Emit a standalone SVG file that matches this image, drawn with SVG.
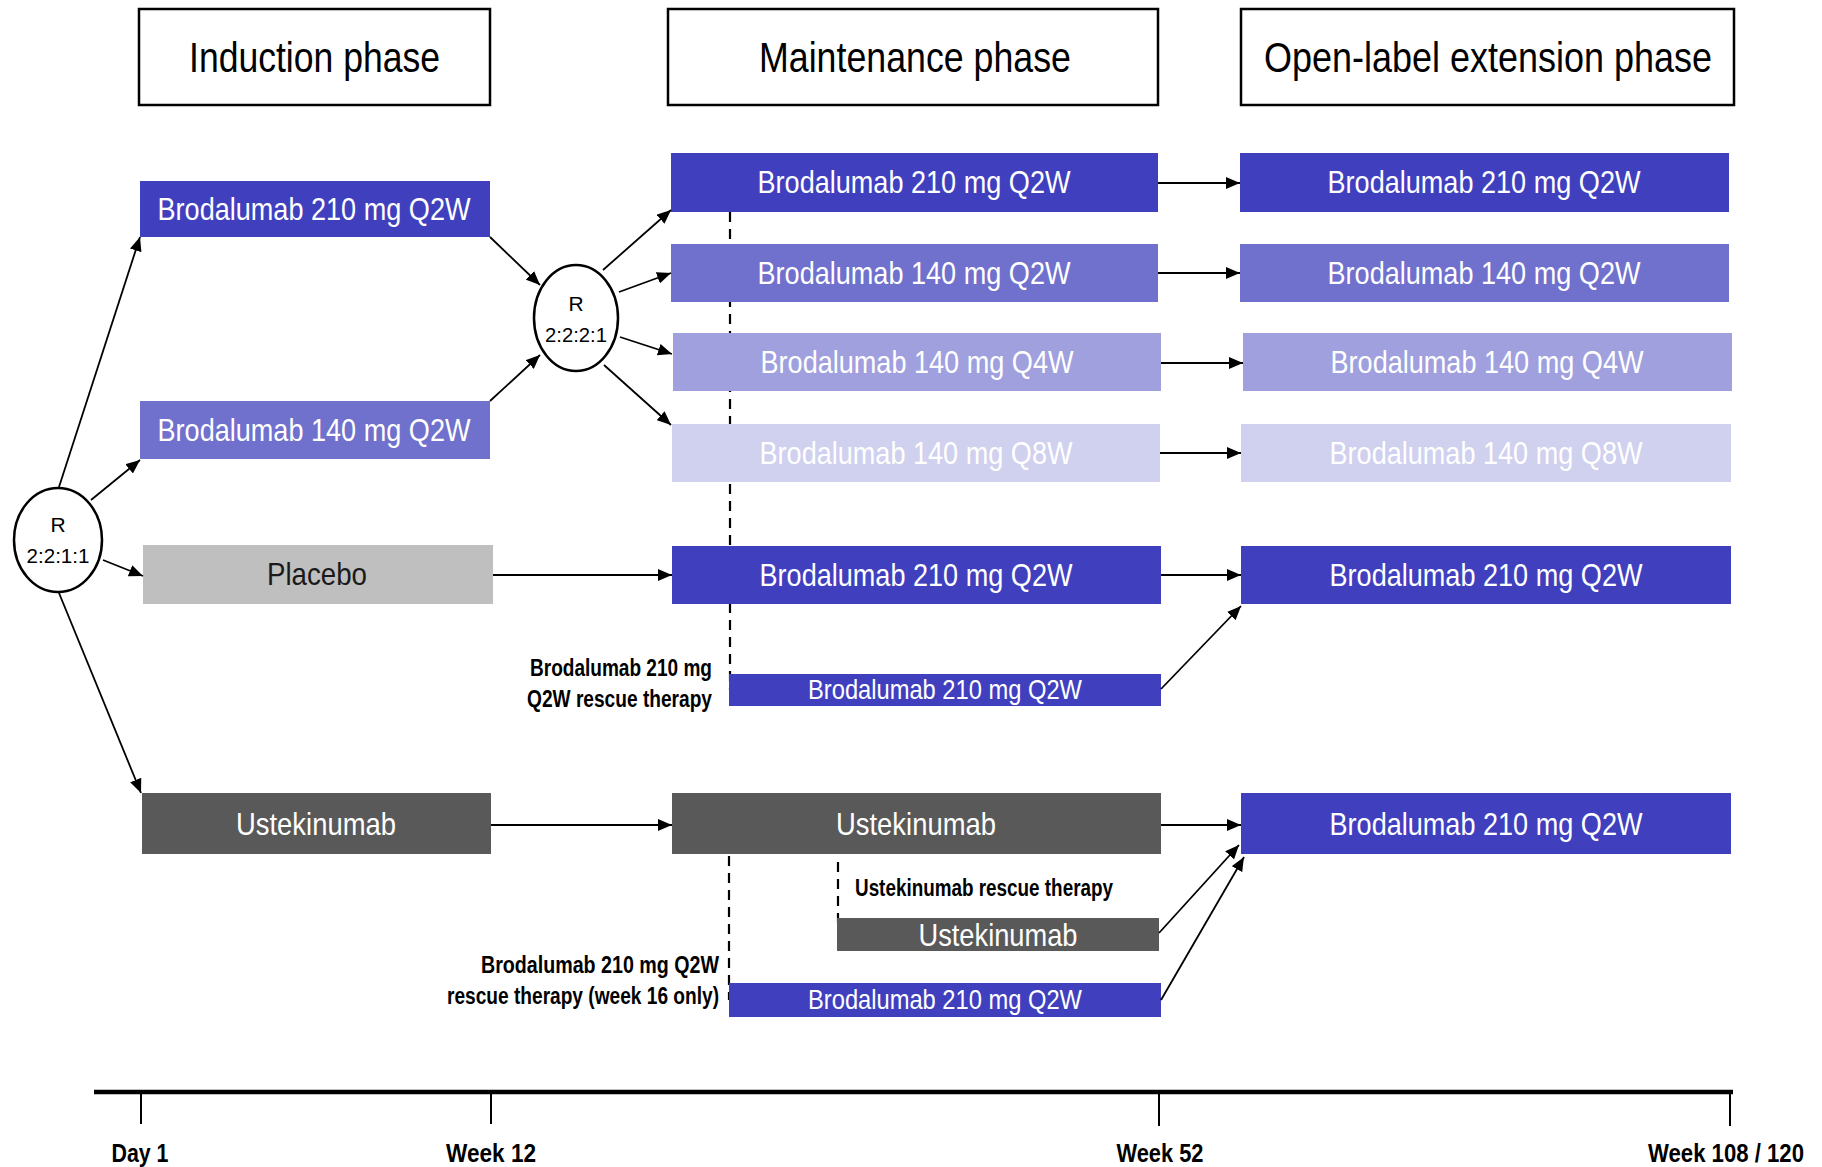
<svg xmlns="http://www.w3.org/2000/svg" width="1822" height="1167" viewBox="0 0 1822 1167">
<defs>
<marker id="ah" viewBox="0 0 14 12" refX="14" refY="6" markerWidth="14" markerHeight="12" markerUnits="userSpaceOnUse" orient="auto"><path d="M0,0 L14,6 L0,12 z" fill="#000"/></marker>
<style>
.hdr{fill:#fff;stroke:#000;stroke-width:2.5}
.ht{font-family:"Liberation Sans",Arial,sans-serif;font-size:42px;fill:#000;text-anchor:middle}
.bt{font-family:"Liberation Sans",Arial,sans-serif;font-size:32px;fill:#fff;text-anchor:middle}
.st{font-family:"Liberation Sans",Arial,sans-serif;font-size:28px;fill:#fff;text-anchor:middle}
.lb{font-family:"Liberation Sans",Arial,sans-serif;font-size:23px;font-weight:bold;fill:#000}
.tl{font-family:"Liberation Sans",Arial,sans-serif;font-size:25px;font-weight:bold;fill:#000;text-anchor:middle}
.ct{font-family:"Liberation Sans",Arial,sans-serif;font-size:21px;fill:#000;text-anchor:middle}
.c210{fill:#4040bf}
.c140{fill:#7070cd}
.c4w{fill:#a0a0de}
.c8w{fill:#d0d0ef}
.cpl{fill:#bfbfbf}
.cus{fill:#595959}
.circ{fill:#fff;stroke:#000;stroke-width:2.5}
.ar{stroke:#000;stroke-width:1.8;fill:none;marker-end:url(#ah)}
.dash{stroke:#000;stroke-width:2.2;fill:none;stroke-dasharray:10 7}
.axis{stroke:#000;fill:none}
</style>
</defs>

<g id="dashed-lines">
<line class="dash" x1="730" y1="212" x2="730" y2="690"/>
<line class="dash" x1="729" y1="856" x2="729" y2="1000"/>
<line class="dash" x1="838" y1="862" x2="838" y2="930"/>
</g>

<g id="header-induction"><rect class="hdr" x="139" y="9" width="351" height="96"/><text class="ht" x="314.5" y="72" textLength="251" lengthAdjust="spacingAndGlyphs">Induction phase</text></g>
<g id="header-maintenance"><rect class="hdr" x="668" y="9" width="490" height="96"/><text class="ht" x="915" y="72" textLength="312" lengthAdjust="spacingAndGlyphs">Maintenance phase</text></g>
<g id="header-ole"><rect class="hdr" x="1241" y="9" width="493" height="96"/><text class="ht" x="1488" y="72" textLength="448" lengthAdjust="spacingAndGlyphs">Open-label extension phase</text></g>

<g id="rand1"><ellipse class="circ" cx="58" cy="540" rx="44" ry="52"/><text class="ct" x="58" y="532">R</text><text class="ct" x="58" y="563" textLength="63" lengthAdjust="spacingAndGlyphs">2:2:1:1</text></g>
<g id="rand2"><ellipse class="circ" cx="576" cy="318" rx="42" ry="53"/><text class="ct" x="576" y="311">R</text><text class="ct" x="576" y="342" textLength="62" lengthAdjust="spacingAndGlyphs">2:2:2:1</text></g>

<g id="ind-210"><rect class="c210" x="140" y="181" width="350" height="56"/><text class="bt" x="314" y="220" textLength="313" lengthAdjust="spacingAndGlyphs">Brodalumab 210 mg Q2W</text></g>
<g id="ind-140"><rect class="c140" x="140" y="401" width="350" height="58"/><text class="bt" x="314" y="441" textLength="313" lengthAdjust="spacingAndGlyphs">Brodalumab 140 mg Q2W</text></g>
<g id="ind-placebo"><rect class="cpl" x="143" y="545" width="350" height="59"/><text class="bt" x="317" y="585" style="fill:#1a1a1a" textLength="100" lengthAdjust="spacingAndGlyphs">Placebo</text></g>
<g id="ind-ust"><rect class="cus" x="142" y="793" width="349" height="61"/><text class="bt" x="316" y="835" textLength="160" lengthAdjust="spacingAndGlyphs">Ustekinumab</text></g>

<g id="m-210"><rect class="c210" x="671" y="153" width="487" height="59"/><text class="bt" x="914" y="193" textLength="313" lengthAdjust="spacingAndGlyphs">Brodalumab 210 mg Q2W</text></g>
<g id="m-140q2"><rect class="c140" x="671" y="244" width="487" height="58"/><text class="bt" x="914" y="284" textLength="313" lengthAdjust="spacingAndGlyphs">Brodalumab 140 mg Q2W</text></g>
<g id="m-140q4"><rect class="c4w" x="673" y="333" width="488" height="58"/><text class="bt" x="917" y="373" textLength="313" lengthAdjust="spacingAndGlyphs">Brodalumab 140 mg Q4W</text></g>
<g id="m-140q8"><rect class="c8w" x="672" y="424" width="488" height="58"/><text class="bt" x="916" y="464" textLength="313" lengthAdjust="spacingAndGlyphs">Brodalumab 140 mg Q8W</text></g>
<g id="m-pl-210"><rect class="c210" x="672" y="546" width="489" height="58"/><text class="bt" x="916" y="586" textLength="313" lengthAdjust="spacingAndGlyphs">Brodalumab 210 mg Q2W</text></g>
<g id="m-rescue1"><rect class="c210" x="729" y="674" width="432" height="32"/><text class="st" x="945" y="699" textLength="274" lengthAdjust="spacingAndGlyphs">Brodalumab 210 mg Q2W</text></g>
<g id="m-ust"><rect class="cus" x="672" y="793" width="489" height="61"/><text class="bt" x="916" y="835" textLength="160" lengthAdjust="spacingAndGlyphs">Ustekinumab</text></g>
<g id="m-ust-rescue"><rect class="cus" x="837" y="918" width="322" height="33"/><text class="bt" x="998" y="946" textLength="159" lengthAdjust="spacingAndGlyphs">Ustekinumab</text></g>
<g id="m-rescue2"><rect class="c210" x="729" y="983" width="432" height="34"/><text class="st" x="945" y="1009" textLength="274" lengthAdjust="spacingAndGlyphs">Brodalumab 210 mg Q2W</text></g>

<g id="o-210"><rect class="c210" x="1240" y="153" width="489" height="59"/><text class="bt" x="1484" y="193" textLength="313" lengthAdjust="spacingAndGlyphs">Brodalumab 210 mg Q2W</text></g>
<g id="o-140q2"><rect class="c140" x="1240" y="244" width="489" height="58"/><text class="bt" x="1484" y="284" textLength="313" lengthAdjust="spacingAndGlyphs">Brodalumab 140 mg Q2W</text></g>
<g id="o-140q4"><rect class="c4w" x="1243" y="333" width="489" height="58"/><text class="bt" x="1487" y="373" textLength="313" lengthAdjust="spacingAndGlyphs">Brodalumab 140 mg Q4W</text></g>
<g id="o-140q8"><rect class="c8w" x="1241" y="424" width="490" height="58"/><text class="bt" x="1486" y="464" textLength="313" lengthAdjust="spacingAndGlyphs">Brodalumab 140 mg Q8W</text></g>
<g id="o-pl-210"><rect class="c210" x="1241" y="546" width="490" height="58"/><text class="bt" x="1486" y="586" textLength="313" lengthAdjust="spacingAndGlyphs">Brodalumab 210 mg Q2W</text></g>
<g id="o-ust-210"><rect class="c210" x="1241" y="793" width="490" height="61"/><text class="bt" x="1486" y="835" textLength="313" lengthAdjust="spacingAndGlyphs">Brodalumab 210 mg Q2W</text></g>

<g id="labels">
<text class="lb" x="712" y="676" text-anchor="end" textLength="182" lengthAdjust="spacingAndGlyphs">Brodalumab 210 mg</text>
<text class="lb" x="712" y="707" text-anchor="end" textLength="185" lengthAdjust="spacingAndGlyphs">Q2W rescue therapy</text>
<text class="lb" x="855" y="896" textLength="258" lengthAdjust="spacingAndGlyphs">Ustekinumab rescue therapy</text>
<text class="lb" x="719" y="973" text-anchor="end" textLength="238" lengthAdjust="spacingAndGlyphs">Brodalumab 210 mg Q2W</text>
<text class="lb" x="719" y="1004" text-anchor="end" textLength="272" lengthAdjust="spacingAndGlyphs">rescue therapy (week 16 only)</text>
</g>

<g id="connectors">
<line class="ar" x1="59" y1="487" x2="140" y2="237"/>
<line class="ar" x1="91" y1="500" x2="140" y2="460"/>
<line class="ar" x1="103" y1="560" x2="143" y2="576"/>
<line class="ar" x1="59" y1="593" x2="141" y2="793"/>
<line class="ar" x1="490" y1="237" x2="540" y2="285"/>
<line class="ar" x1="490" y1="401" x2="540" y2="355"/>
<line class="ar" x1="603" y1="270" x2="671" y2="210"/>
<line class="ar" x1="619" y1="292" x2="671" y2="273"/>
<line class="ar" x1="620" y1="337" x2="672" y2="354"/>
<line class="ar" x1="604" y1="365" x2="671" y2="425"/>
<line class="ar" x1="1158" y1="183" x2="1240" y2="183"/>
<line class="ar" x1="1158" y1="273" x2="1240" y2="273"/>
<line class="ar" x1="1161" y1="363" x2="1243" y2="363"/>
<line class="ar" x1="1160" y1="453" x2="1241" y2="453"/>
<line class="ar" x1="493" y1="575" x2="672" y2="575"/>
<line class="ar" x1="1161" y1="575" x2="1241" y2="575"/>
<line class="ar" x1="1161" y1="689" x2="1241" y2="606"/>
<line class="ar" x1="491" y1="825" x2="672" y2="825"/>
<line class="ar" x1="1161" y1="825" x2="1241" y2="825"/>
<line class="ar" x1="1159" y1="933" x2="1239" y2="845"/>
<line class="ar" x1="1161" y1="1000" x2="1244" y2="857"/>
</g>

<g id="timeline">
<line class="axis" x1="94" y1="1092" x2="1733" y2="1092" stroke-width="4.5"/>
<line class="axis" x1="141" y1="1092" x2="141" y2="1124" stroke-width="2"/>
<line class="axis" x1="491" y1="1092" x2="491" y2="1124" stroke-width="2"/>
<line class="axis" x1="1159" y1="1092" x2="1159" y2="1126" stroke-width="2"/>
<line class="axis" x1="1730" y1="1092" x2="1730" y2="1126" stroke-width="2"/>
<text class="tl" x="140" y="1162" textLength="57" lengthAdjust="spacingAndGlyphs">Day 1</text>
<text class="tl" x="491" y="1162" textLength="90" lengthAdjust="spacingAndGlyphs">Week 12</text>
<text class="tl" x="1160" y="1162" textLength="87" lengthAdjust="spacingAndGlyphs">Week 52</text>
<text class="tl" x="1726" y="1162" textLength="156" lengthAdjust="spacingAndGlyphs">Week 108 / 120</text>
</g>
</svg>
